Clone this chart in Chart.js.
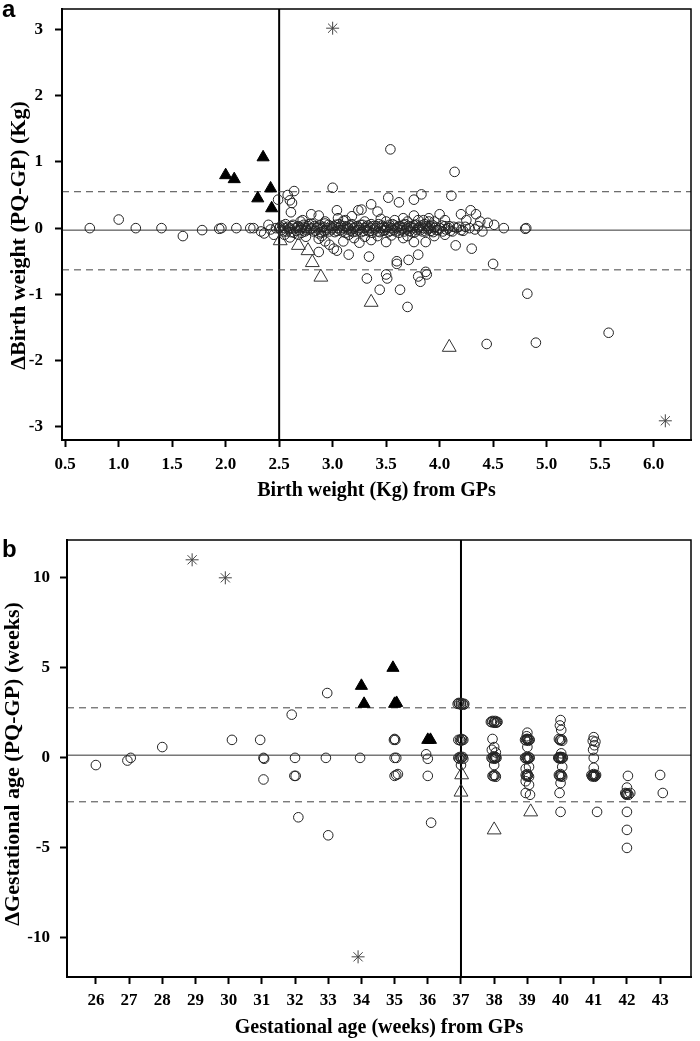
<!DOCTYPE html>
<html>
<head>
<meta charset="utf-8">
<script src="https://cdn.jsdelivr.net/npm/chart.js@4.4.1/dist/chart.umd.min.js"></script>
<style>
  body { margin: 0; background: #fff; }
  .panel { position: absolute; left: 0; }
  .tag { position: absolute; left: 2px; font: bold 24px "Liberation Sans", Arial, sans-serif; line-height: 24px; }
</style>
</head>
<body>
<div class="panel" style="top:0"><canvas id="chartA" width="700" height="520"></canvas></div>
<div class="panel" style="top:520px"><canvas id="chartB" width="700" height="521"></canvas></div>
<div class="tag" style="top:-3px">a</div>
<div class="tag" style="top:537px">b</div>
<script>
// panel a: birth weight
const weightTicksX = [0.5, 1.0, 1.5, 2.0, 2.5, 3.0, 3.5, 4.0, 4.5, 5.0, 5.5, 6.0];
const weightTicksY = [-3, -2, -1, 0, 1, 2, 3];
const weightRangeX = [0.47, 6.35];
const weightRangeY = [-3.2, 3.31];
const weightMean = -0.03, weightUpper = 0.55, weightLower = -0.63, weightCut = 2.5;

const weightCircles = [
  [0.73,0.0],[1.0,0.13],[1.16,0.0],[1.4,0.0],[1.6,-0.12],[1.78,-0.03],[1.94,-0.01],[1.96,0.0],
  [2.1,0.0],[2.23,0.0],[2.26,0.0],[2.33,-0.05],[2.36,-0.08],[2.4,0.05],[2.42,-0.02],[2.45,-0.1],
  [2.47,0.0],[2.49,0.43],
  [2.58,0.5],[2.64,0.56],[2.62,0.38],[2.61,0.24],[2.6,0.42],
  [2.72,0.12],[2.8,0.21],[2.87,0.19],[2.93,0.1],[3.0,0.61],[3.04,0.27],[3.05,0.15],[3.12,0.12],
  [3.18,0.18],[3.24,0.27],[3.27,0.28],[3.3,0.1],[3.36,0.36],[3.42,0.25],[3.45,0.14],[3.52,0.46],
  [3.54,1.19],[3.58,0.12],[3.62,0.39],[3.66,0.15],[3.7,0.1],[3.76,0.43],[3.76,0.19],[3.8,0.12],
  [3.83,0.51],[3.9,0.15],[3.95,0.1],[4.0,0.21],[4.05,0.12],[4.11,0.49],[4.14,0.85],[4.2,0.21],
  [4.25,0.12],[4.29,0.27],[4.34,0.21],[4.38,0.1],[4.45,0.08],[4.51,0.05],[4.6,0.0],[4.8,-0.01],[4.81,0.0],
  [2.55,-0.1],[2.6,-0.14],[2.68,-0.1],[2.75,-0.13],[2.87,-0.16],[2.87,-0.36],[2.93,-0.2],[2.97,-0.25],
  [3.01,-0.31],[3.04,-0.34],[3.1,-0.2],[3.15,-0.4],[3.2,-0.15],[3.25,-0.22],[3.32,-0.76],[3.34,-0.43],
  [3.36,-0.18],[3.42,-0.12],[3.44,-0.93],[3.5,-0.21],[3.5,-0.7],[3.51,-0.76],[3.6,-0.5],[3.6,-0.54],
  [3.63,-0.93],[3.66,-0.15],[3.7,-1.19],[3.71,-0.48],[3.76,-0.21],[3.8,-0.4],[3.8,-0.73],[3.82,-0.81],
  [3.87,-0.21],[3.87,-0.66],[3.88,-0.7],[3.95,-0.12],[4.05,-0.1],[4.15,-0.26],[4.3,-0.31],[4.4,-0.05],
  [4.44,-1.75],[4.5,-0.54],[4.82,-0.99],[4.9,-1.73],[5.58,-1.58],
  [2.5,0.0],[2.52,-0.03],[2.53,0.04],[2.55,0.0],[2.57,-0.05],[2.58,0.02],[2.6,0.0],[2.61,-0.06],
  [2.63,0.05],[2.65,0.0],[2.66,-0.04],[2.68,0.03],[2.7,0.0],[2.71,-0.07],[2.73,0.05],[2.75,0.0],
  [2.76,-0.03],[2.78,0.06],[2.8,0.0],[2.82,-0.05],[2.83,0.03],[2.85,0.0],[2.87,-0.08],[2.88,0.04],
  [2.9,0.0],[2.92,-0.04],[2.93,0.07],[2.95,0.0],[2.97,-0.05],[2.98,0.03],[3.0,0.0],[3.02,-0.06],
  [3.03,0.05],[3.05,0.0],[3.07,-0.03],[3.08,0.04],[3.1,0.0],[3.12,-0.07],[3.13,0.02],[3.15,0.0],
  [3.17,-0.04],[3.18,0.06],[3.2,0.0],[3.22,-0.05],[3.23,0.03],[3.25,0.0],[3.27,-0.06],[3.28,0.05],
  [3.3,0.0],[3.32,-0.03],[3.33,0.04],[3.35,0.0],[3.37,-0.07],[3.38,0.03],[3.4,0.0],[3.42,-0.05],
  [3.43,0.06],[3.45,0.0],[3.47,-0.04],[3.48,0.02],[3.5,0.0],[3.52,-0.06],[3.53,0.05],[3.55,0.0],
  [3.57,-0.03],[3.58,0.04],[3.6,0.0],[3.62,-0.07],[3.63,0.03],[3.65,0.0],[3.67,-0.05],[3.68,0.06],
  [3.7,0.0],[3.72,-0.04],[3.73,0.02],[3.75,0.0],[3.77,-0.06],[3.78,0.05],[3.8,0.0],[3.82,-0.03],
  [3.83,0.04],[3.85,0.0],[3.87,-0.05],[3.88,0.03],[3.9,0.0],[3.92,-0.04],[3.93,0.05],[3.95,0.0],
  [3.97,-0.03],[4.0,0.0],[4.03,-0.05],[4.05,0.03],[4.08,0.0],[4.1,-0.04],[4.13,0.02],[4.16,0.0],
  [4.2,-0.03],[4.24,0.02],[4.28,0.0],[4.33,-0.02],[4.36,0.03],
  [2.51,0.02],[2.54,-0.05],[2.56,0.06],[2.59,-0.02],[2.62,0.03],[2.64,-0.07],[2.67,0.01],[2.69,-0.03],
  [2.72,0.02],[2.74,-0.05],[2.77,0.03],[2.79,-0.02],[2.81,0.06],[2.84,-0.04],[2.86,0.02],[2.89,-0.06],
  [2.91,0.02],[2.94,-0.03],[2.96,0.05],[2.99,-0.02],[3.01,0.03],[3.04,-0.04],[3.06,0.06],[3.09,-0.05],
  [3.11,0.03],[3.14,-0.02],[3.16,0.04],[3.19,-0.06],[3.21,0.02],[3.24,-0.03],[3.26,0.05],[3.29,-0.04],
  [3.31,0.02],[3.34,-0.05],[3.36,0.06],[3.39,-0.02],[3.41,0.03],[3.44,-0.06],[3.46,0.04],[3.49,-0.03],
  [3.51,0.02],[3.54,-0.04],[3.56,0.06],[3.59,-0.05],[3.61,0.02],[3.64,-0.03],[3.66,0.05],[3.69,-0.02],
  [3.71,0.03],[3.74,-0.06],[3.76,0.04],[3.79,-0.03],[3.81,0.02],[3.84,-0.05],[3.86,0.06],[3.89,-0.02],
  [3.91,0.03],[3.94,-0.06],[3.96,0.02],[3.99,-0.03],[4.02,0.04],[4.06,-0.02],[4.09,0.03],[4.12,-0.05],
  [4.18,0.02],[4.22,-0.04],
  [2.7,0.1],[2.9,-0.12],[3.1,0.11],[3.3,-0.13],[3.5,0.1],[3.7,-0.12],[3.9,0.1],[3.15,-0.1],
  [3.55,-0.11],[3.85,0.12]
];
const weightFilledTri = [[2.0,0.8],[2.08,0.74],[2.35,1.07],[2.42,0.6],[2.3,0.45],[2.43,0.3]];
const weightOpenTri = [[2.51,-0.19],[2.68,-0.26],[2.77,-0.34],[2.81,-0.52],[2.89,-0.74],[3.36,-1.12],[4.09,-1.8]];
const weightStars = [[3.0,3.02],[6.11,-2.91]];

// panel b: gestational age
const ageTicksX = [26, 27, 28, 29, 30, 31, 32, 33, 34, 35, 36, 37, 38, 39, 40, 41, 42, 43];
const ageTicksY = [-10, -5, 0, 5, 10];
const ageRangeX = [25.13, 43.93];
const ageRangeY = [-12.17, 12.1];
const ageMean = 0.15, ageUpper = 2.78, ageLower = -2.44, ageCut = 37;

const ageCircles = [
  [26.0,-0.4],[26.95,-0.15],[27.05,0.0],[28.0,0.6],[30.1,1.0],
  [30.95,1.0],[31.05,0.0],[31.07,-0.05],[31.05,-1.2],
  [31.9,2.4],[32.0,0.0],[31.98,-1.0],[32.02,-1.0],[32.1,-3.3],
  [32.97,3.6],[32.93,0.0],[33.0,-4.3],[33.96,0.0],
  [34.98,1.0],[35.02,1.0],[35.0,1.05],[35.0,0.0],[35.05,0.0],[35.1,-0.9],[35.0,-1.0],[35.05,-0.95],
  [35.95,0.2],[36.0,-0.05],[36.0,-1.0],[36.1,-3.6],
  [36.9,3.0],[36.95,3.0],[37.0,3.05],[37.05,3.0],[37.1,3.0],[37.0,2.95],[36.93,3.05],[37.08,2.95],
  [36.92,1.0],[36.97,1.0],[37.02,1.05],[37.07,1.0],[37.0,0.95],[37.04,1.0],
  [36.92,0.0],[36.97,0.05],[37.02,0.0],[37.07,-0.05],[37.0,0.0],[36.95,-0.05],[37.05,0.05],[37.0,-0.4],
  [37.9,2.0],[37.95,2.05],[38.0,2.0],[38.05,1.95],[38.1,2.0],[38.0,1.95],[37.93,1.98],[38.03,2.05],[38.08,1.97],
  [37.95,1.05],[38.0,0.6],[37.93,0.45],[38.05,0.3],
  [37.92,0.0],[37.97,0.05],[38.02,-0.05],[38.07,0.0],[38.0,0.0],[37.95,-0.03],[38.05,0.03],[38.03,0.05],[38.0,-0.4],
  [37.95,-1.0],[38.0,-0.95],[38.05,-1.05],[37.98,-1.02],[38.03,-0.98],
  [39.0,1.4],[38.98,1.2],[38.93,1.0],[38.98,1.05],[39.03,0.95],[39.07,1.0],[39.0,1.0],[38.96,0.97],[39.05,1.03],[39.01,1.05],[39.0,0.6],
  [38.93,0.0],[38.98,0.05],[39.03,-0.05],[39.07,0.0],[39.0,0.0],[38.96,-0.03],[39.05,0.03],[39.01,-0.05],[39.05,-0.5],[38.95,-0.6],
  [38.95,-0.95],[39.0,-1.0],[39.05,-1.05],[39.0,-0.9],[38.97,-1.02],[39.02,-0.97],[38.95,-1.3],[39.05,-1.5],[38.95,-1.95],[39.08,-2.05],
  [40.0,2.1],[39.98,1.8],[40.02,1.55],[39.95,1.05],[40.0,1.0],[40.05,0.95],[39.98,0.98],[40.03,1.03],[40.02,0.25],
  [39.93,0.0],[39.98,0.05],[40.03,-0.05],[40.07,0.0],[40.0,0.0],[39.96,-0.03],[40.05,0.03],[40.01,0.05],[39.95,0.02],[40.05,-0.5],
  [39.95,-0.95],[40.0,-1.0],[40.05,-1.05],[40.0,-0.9],[39.97,-1.02],[40.03,-0.98],[40.0,-1.4],[39.97,-1.95],[40.0,-3.0],
  [41.0,1.15],[41.05,0.9],[40.97,0.95],[41.02,0.7],[40.98,0.45],[41.0,0.0],[41.0,-0.55],
  [40.93,-0.95],[40.98,-1.0],[41.03,-1.05],[41.07,-0.95],[41.0,-0.9],[41.0,-1.0],
  [40.95,-1.03],[41.05,-1.0],[41.02,-0.97],[40.97,-0.98],[41.1,-3.0],
  [42.03,-1.0],[42.0,-1.65],[41.95,-1.95],[42.0,-2.0],[42.05,-2.05],[42.1,-1.95],[41.98,-2.05],[42.02,-1.98],[41.97,-2.0],
  [42.0,-3.0],[42.0,-4.0],[42.0,-5.0],
  [43.0,-0.95],[43.08,-1.95]
];
const ageFilledTri = [[34.0,4.0],[34.08,3.0],[34.95,5.0],[35.0,3.0],[35.06,3.05],[36.0,1.0],[36.08,1.0]];
const ageOpenTri = [[37.02,-0.94],[37.0,-1.9],[38.0,-4.0],[39.1,-3.0]];
const ageStars = [[28.9,11.0],[29.9,10.0],[33.9,-11.05]];

const serif = '"Liberation Serif", "Times New Roman", serif';
const tickFont = { family: serif, weight: 'bold', size: 17 };
const titleFontX = { family: serif, weight: 'bold', size: 20 };
const titleFontY = { family: serif, weight: 'bold', size: 22 };

const toXY = arr => arr.map(p => ({ x: p[0], y: p[1] }));

const frame = {
  id: 'frame',
  afterDraw(chart) {
    const { ctx, chartArea: a } = chart;
    ctx.save();
    ctx.strokeStyle = '#000';
    ctx.lineWidth = 1.5;
    ctx.strokeRect(a.left, a.top, a.right - a.left, a.bottom - a.top);
    ctx.restore();
  }
};

function axis(o) {
  return {
    type: 'linear',
    min: o.range[0],
    max: o.range[1],
    afterBuildTicks: s => { s.ticks = o.ticks.map(v => ({ value: v })); },
    afterFit: s => {
      if (o.width) s.width = o.width;
      if (o.height) s.height = o.height;
      s.paddingTop = s.paddingBottom = s.paddingLeft = s.paddingRight = 0;
    },
    border: { display: true, color: '#000', width: 2 },
    grid: { drawOnChartArea: false, drawTicks: true, tickLength: 7, tickWidth: 2, tickColor: '#000' },
    ticks: { color: '#000', font: tickFont, padding: o.pad, callback: o.fmt || (v => String(v)) },
    title: { display: true, text: o.title, color: '#000', font: o.titleFont, padding: o.titlePad }
  };
}

function lineSet(points, color, width, dash) {
  return {
    data: toXY(points), showLine: true, pointRadius: 0, borderColor: color,
    borderWidth: width, borderDash: dash || [], order: 5
  };
}

function panel(id, d) {
  const [x0, x1] = d.rangeX, [y0, y1] = d.rangeY;
  return new Chart(document.getElementById(id), {
    type: 'scatter',
    data: {
      datasets: [
        lineSet([[x0, d.mean], [x1, d.mean]], '#333', 1),
        lineSet([[x0, d.upper], [x1, d.upper]], '#444', 1, [7, 5]),
        lineSet([[x0, d.lower], [x1, d.lower]], '#444', 1, [7, 5]),
        lineSet([[d.cut, y0], [d.cut, y1]], '#000', 2),
        { data: toXY(d.circles), pointStyle: 'circle', pointRadius: 4.8, borderColor: '#222',
          borderWidth: 1, backgroundColor: 'rgba(0,0,0,0)', order: 4 },
        { data: toXY(d.openTri), pointStyle: 'triangle', pointRadius: 8, borderColor: '#333',
          borderWidth: 1, backgroundColor: 'rgba(0,0,0,0)', order: 3 },
        { data: toXY(d.filledTri), pointStyle: 'triangle', pointRadius: 7, borderColor: '#000',
          borderWidth: 1, backgroundColor: '#000', order: 2 },
        { data: toXY(d.stars), pointStyle: 'star', pointRadius: 6.5, borderColor: '#444',
          borderWidth: 1, order: 1 }
      ]
    },
    options: {
      responsive: false,
      animation: false,
      events: [],
      layout: { padding: d.padding },
      plugins: { legend: { display: false }, tooltip: { enabled: false } },
      scales: {
        x: axis({ range: d.rangeX, ticks: d.ticksX, fmt: d.fmtX, height: d.xHeight, pad: d.xPad,
                  title: d.titleX, titleFont: titleFontX, titlePad: { top: 0, bottom: d.xTitlePad } }),
        y: axis({ range: d.rangeY, ticks: d.ticksY, width: d.yWidth, pad: d.yPad,
                  title: d.titleY, titleFont: titleFontY, titlePad: { top: d.yTitlePad, bottom: 0 } })
      }
    },
    plugins: [frame]
  });
}

// trailing no-break spaces nudge the rotated titles down a little, as in the original
panel('chartA', {
  rangeX: weightRangeX, rangeY: weightRangeY, ticksX: weightTicksX, ticksY: weightTicksY,
  fmtX: v => v.toFixed(1), mean: weightMean, upper: weightUpper, lower: weightLower, cut: weightCut,
  circles: weightCircles, openTri: weightOpenTri, filledTri: weightFilledTri, stars: weightStars,
  padding: { left: 0, right: 5, top: 4, bottom: 0 }, xHeight: 80, yWidth: 62,
  xPad: 7, yPad: 12, xTitlePad: 17, yTitlePad: 6,
  titleX: 'Birth weight (Kg) from GPs',
  titleY: '\u0394Birth weight (PQ-GP) (Kg)\u00a0\u00a0\u00a0\u00a0'
});

panel('chartB', {
  rangeX: ageRangeX, rangeY: ageRangeY, ticksX: ageTicksX, ticksY: ageTicksY,
  mean: ageMean, upper: ageUpper, lower: ageLower, cut: ageCut,
  circles: ageCircles, openTri: ageOpenTri, filledTri: ageFilledTri, stars: ageStars,
  padding: { left: 0, right: 7, top: 20, bottom: 0 }, xHeight: 64, yWidth: 67,
  xPad: 6, yPad: 10, xTitlePad: 1, yTitlePad: 0,
  titleX: 'Gestational age (weeks) from GPs',
  titleY: '\u0394Gestational age (PQ-GP) (weeks)\u00a0\u00a0'
});
</script>
</body>
</html>
